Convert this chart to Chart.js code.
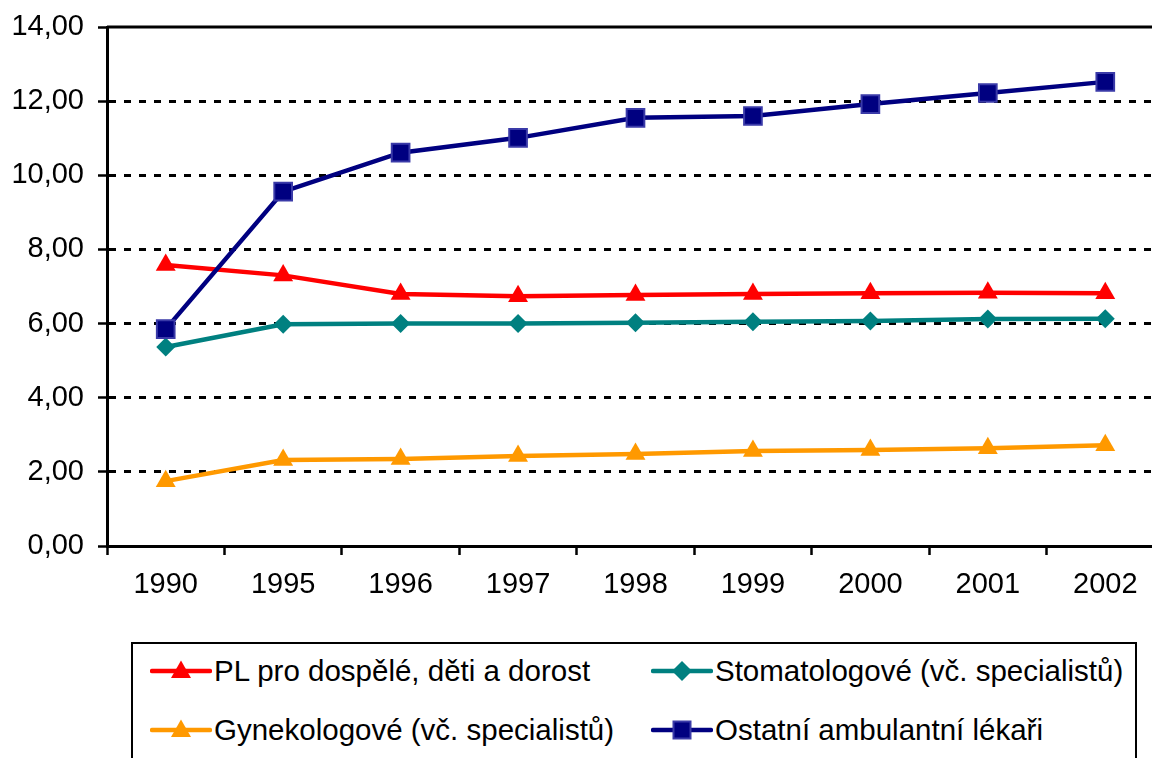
<!DOCTYPE html>
<html>
<head>
<meta charset="utf-8">
<script src="https://cdn.jsdelivr.net/npm/chart.js@4/dist/chart.umd.min.js"></script>
<style>
  html, body { margin: 0; padding: 0; background: #fff; overflow: hidden; width: 1152px; height: 758px; }
  #wrap { position: absolute; left: 0; top: 0; width: 1200px; height: 640px; }
  #legend { position: absolute; left: 131px; top: 642px; width: 1002px; height: 140px; border: 2px solid #000; box-sizing: content-box; }
  .item { position: absolute; height: 36px; display: flex; align-items: center; font-family: "Liberation Sans", Arial, sans-serif; font-size: 29.5px; color: #000; white-space: nowrap; }
  .item svg { margin-right: 2px; }
</style>
</head>
<body>
<div id="wrap"><canvas id="c" width="1200" height="640"></canvas></div>
<div id="legend"></div>
<script>
const categories = ['1990', '1995', '1996', '1997', '1998', '1999', '2000', '2001', '2002'];
const plValues   = [7.58, 7.30, 6.80, 6.74, 6.77, 6.80, 6.82, 6.83, 6.82];
const stomValues = [5.37, 5.98, 6.00, 6.00, 6.02, 6.05, 6.07, 6.12, 6.13];
const gynValues  = [1.75, 2.32, 2.35, 2.43, 2.48, 2.56, 2.59, 2.64, 2.72];
const ostValues  = [5.85, 9.56, 10.61, 11.01, 11.55, 11.60, 11.92, 12.22, 12.52];
const yTickLabels = ['0,00', '2,00', '4,00', '6,00', '8,00', '10,00', '12,00', '14,00'];
const seriesNames = ['PL pro dospělé, děti a dorost', 'Stomatologové (vč. specialistů)', 'Gynekologové (vč. specialistů)', 'Ostatní ambulantní lékaři'];

const FONT = "'Liberation Sans', Arial, sans-serif";

const frame = {
  id: 'frame',
  beforeDatasetsDraw(chart) {
    const a = chart.chartArea, ctx = chart.ctx;
    ctx.save();
    ctx.strokeStyle = '#000';
    ctx.lineWidth = 3;
    ctx.beginPath();
    ctx.moveTo(a.left, a.top);
    ctx.lineTo(a.right, a.top);
    ctx.lineTo(a.right, a.bottom);
    ctx.stroke();
    ctx.restore();
  }
};

const ds = (label, data, color, style, radius, pColor, pBorder) => ({
  label, data,
  borderColor: color,
  backgroundColor: pColor,
  borderWidth: 4.5,
  pointStyle: style,
  pointRadius: radius,
  pointHoverRadius: radius,
  pointBackgroundColor: pColor,
  pointBorderColor: pBorder,
  pointBorderWidth: pBorder === pColor ? 0 : 2,
  tension: 0,
  fill: false
});

new Chart(document.getElementById('c'), {
  type: 'line',
  data: {
    labels: categories,
    datasets: [
      ds(seriesNames[3], ostValues, '#000080', 'rect', 12.5, '#000080', '#3a3aa8'),
      ds(seriesNames[0], plValues, '#FF0000', 'triangle', 11.5, '#FF0000', '#FF0000'),
      ds(seriesNames[1], stomValues, '#008080', 'rectRot', 9.5, '#008080', '#008080'),
      ds(seriesNames[2], gynValues, '#FF9900', 'triangle', 11.5, '#FF9900', '#FF9900')
    ]
  },
  options: {
    responsive: false,
    animation: false,
    layout: { padding: { top: 27, right: 36, left: 0, bottom: 0 } },
    plugins: { legend: { display: false }, tooltip: { enabled: false } },
    scales: {
      x: {
        type: 'category',
        offset: true,
        grid: { display: true, offset: true, drawOnChartArea: false, drawTicks: true, tickLength: 9, tickColor: '#000', tickWidth: 2.5 },
        border: { display: true, color: '#000', width: 3 },
        ticks: { color: '#000', font: { family: FONT, size: 29 }, padding: 13, maxRotation: 0, autoSkip: false },
        afterFit(s) { s.height = 640 - 546; s.paddingLeft = 0; s.paddingRight = 0; }
      },
      y: {
        min: 0, max: 14,
        grid: {
          color: (c) => (c.tick && (c.tick.value === 0 || c.tick.value === 14)) ? 'rgba(0,0,0,0)' : '#000',
          lineWidth: 3,
          drawTicks: true, tickLength: 9, tickColor: '#000', tickWidth: 2.5
        },
        border: { display: true, color: '#000', width: 3, dash: [7, 8] },
        ticks: {
          stepSize: 2, color: '#000', font: { family: FONT, size: 29 }, padding: 14,
          callback: (v, i) => yTickLabels[i]
        },
        afterFit(s) { s.width = 107; s.paddingTop = 0; s.paddingBottom = 0; }
      }
    }
  },
  plugins: [frame]
});

// HTML legend
const legendItems = [
  { name: seriesNames[0], color: '#FF0000', mk: 'tri', x: 17, y: 671 },
  { name: seriesNames[1], color: '#008080', mk: 'dia', x: 518, y: 671 },
  { name: seriesNames[2], color: '#FF9900', mk: 'tri', x: 17, y: 730 },
  { name: seriesNames[3], color: '#000080', mk: 'sq', x: 518, y: 730 }
];
const lg = document.getElementById('legend');
legendItems.forEach(it => {
  const d = document.createElement('div');
  d.className = 'item';
  d.style.left = it.x + 'px';
  d.style.top = (it.y - 644 - 18) + 'px';
  let marker = '';
  if (it.mk === 'tri') marker = `<polygon points="31,7.5 41,25 21,25" fill="${it.color}"/>`;
  if (it.mk === 'dia') marker = `<polygon points="31,8 41,18 31,28 21,18" fill="${it.color}"/>`;
  if (it.mk === 'sq') marker = `<rect x="22.5" y="9.5" width="17" height="17" fill="#000080" stroke="#3a3aa8" stroke-width="2"/>`;
  d.innerHTML = `<svg width="62" height="36" viewBox="0 0 62 36"><line x1="2" y1="18" x2="60" y2="18" stroke="${it.color}" stroke-width="4.5" stroke-linecap="round"/>${marker}</svg><span>${it.name}</span>`;
  lg.appendChild(d);
});
</script>
</body>
</html>
